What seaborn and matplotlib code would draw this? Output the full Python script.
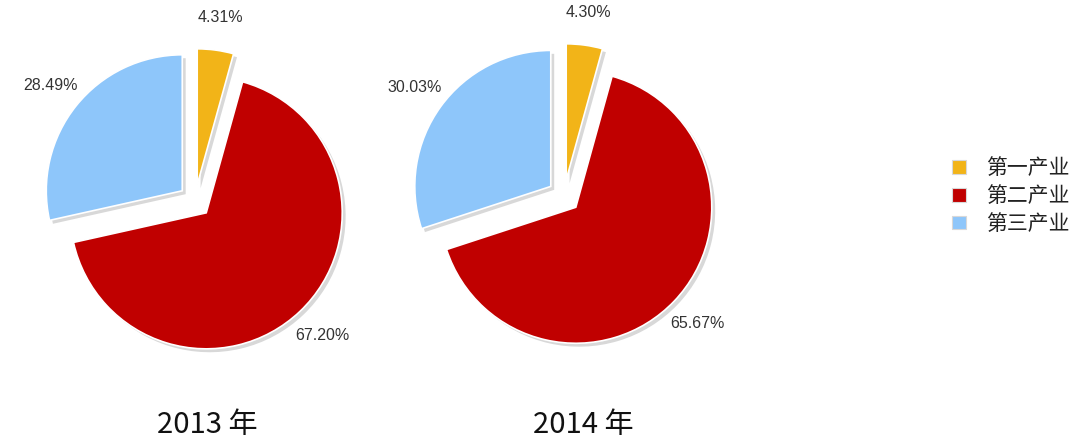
import matplotlib
matplotlib.use("Agg")
import matplotlib.pyplot as plt
import seaborn as sns

# ---- data ----
categories = ["第一产业", "第二产业", "第三产业"]
values_2013 = [4.31, 67.20, 28.49]
values_2014 = [4.30, 65.67, 30.03]
titles = ["2013 年", "2014 年"]
colors = ["#F2B418", "#C00000", "#8EC6FA"]

sns.set_theme(style="white")
plt.rcParams["font.family"] = ["Liberation Sans", "Noto Sans CJK SC", "DejaVu Sans"]

W, H = 1075, 441
fig = plt.figure(figsize=(W / 100, H / 100), dpi=100)
fig.patch.set_facecolor("white")

pal = sns.color_palette(colors)
box = 340  # px, axes box size -> radius 1 == 136 px with lim 1.25


def make_pie(cx, cy, vals, title, tx, ty):
    ax = fig.add_axes([(cx - box / 2) / W, (H - cy - box / 2) / H, box / W, box / H])
    explode = [0.12] * len(vals)
    # shadow layer
    ax.pie(vals, explode=explode, startangle=90, counterclock=False,
           colors=["#d8d8d8"] * len(vals), center=(0.025, -0.025),
           wedgeprops=dict(linewidth=0))
    wedges, _, autotexts = ax.pie(
        vals, explode=explode, startangle=90, counterclock=False,
        colors=pal, autopct="%.2f%%", pctdistance=1.24,
        wedgeprops=dict(edgecolor="white", linewidth=1.2),
        textprops=dict(fontsize=11.5, color="#333333"))
    ax.set_xlim(-1.25, 1.25)
    ax.set_ylim(-1.25, 1.25)
    ax.set_aspect("equal")
    ax.axis("off")
    fig.text(tx / W, 1 - ty / H, title, ha="center", va="center",
             fontsize=21, color="#111111", fontweight="light",
             family=["Noto Sans CJK SC", "DejaVu Sans"])
    return wedges


w1 = make_pie(195, 201, values_2013, titles[0], 207, 425)
w2 = make_pie(564, 196, values_2014, titles[1], 583, 425)

leg = fig.legend(w1, categories, loc="center left",
                 bbox_to_anchor=(952 / W, 1 - 196 / H),
                 frameon=False, borderpad=0, borderaxespad=0,
                 handlelength=0.65, handleheight=0.65, handletextpad=1.0,
                 labelspacing=0.28,
                 prop=dict(family=["Noto Sans CJK SC", "DejaVu Sans"], size=15))
for t in leg.get_texts():
    t.set_color("#222222")
for h in leg.legend_handles:
    h.set_edgecolor("#d8d8d8")
    h.set_linewidth(0.8)

fig.savefig("out.png", dpi=100, facecolor="white")
